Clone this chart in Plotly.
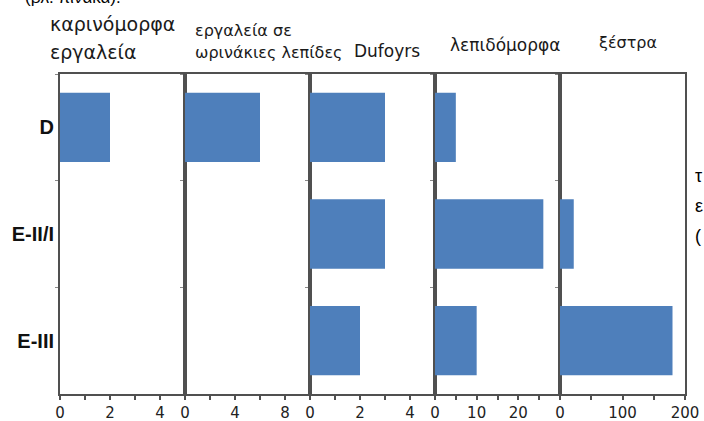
import plotly.graph_objects as go

# ---- data ----
categories = ["D", "E-II/I", "E-III"]
panel_titles = [
    ["καρινόμορφα", "εργαλεία"],
    ["εργαλεία σε", "ωρινάκιες λεπίδες"],
    ["Dufoyrs"],
    ["λεπιδόμορφα"],
    ["ξέστρα"],
]
karinomorfa = [2, None, None]
orinakies_lepides = [6, None, None]
dufoyrs = [3, 3, 2]
lepidomorfa = [5, 26, 10]
xestra = [None, 22, 180]

axis_ranges = [[0, 5], [0, 10], [0, 5], [0, 30], [0, 200]]
tick_vals = [
    [0, 1, 2, 3, 4, 5],
    [0, 2, 4, 6, 8, 10],
    [0, 1, 2, 3, 4, 5],
    [0, 5, 10, 15, 20, 25, 30],
    [0, 50, 100, 150, 200],
]
tick_text = [
    ["0", "", "2", "", "4", ""],
    ["0", "", "4", "", "8", ""],
    ["0", "", "2", "", "4", ""],
    ["0", "", "10", "", "20", "", ""],
    ["0", "", "100", "", "200"],
]
side_text = ["τ", "ε", "("]
top_text = "(βλ. πίνακα)."

panel_values = [karinomorfa, orinakies_lepides, dufoyrs, lepidomorfa, xestra]

# ---- layout geometry ----
W, H = 704, 421
L, R, T, B = 60, 19, 74, 27
PW = W - L - R
PH = H - T - B

def px(xp):
    return (xp - L) / PW

def py(yp):
    return (H - B - yp) / PH

BAR = "#4E7FBB"
LINE = "#505050"
FONT = "Liberation Sans, Arial, sans-serif"
WIDE = "DejaVu Sans, Verdana, sans-serif"

fig = go.Figure()
n = len(panel_values)
for i, vals in enumerate(panel_values):
    xa = "x" if i == 0 else f"x{i+1}"
    ya = "y" if i == 0 else f"y{i+1}"
    fig.add_trace(go.Bar(
        x=vals, y=categories, orientation="h", xaxis=xa, yaxis=ya,
        marker=dict(color=BAR, line=dict(width=0)), width=0.65,
        showlegend=False, hoverinfo="x+y",
    ))
    xkey = "xaxis" if i == 0 else f"xaxis{i+1}"
    ykey = "yaxis" if i == 0 else f"yaxis{i+1}"
    fig.layout[xkey] = dict(
        domain=[i / n, (i + 1) / n], anchor=ya, range=axis_ranges[i],
        tickmode="array", tickvals=tick_vals[i], ticktext=tick_text[i],
        ticks="outside", ticklen=4, tickwidth=1.5, tickcolor=LINE,
        showline=True, linecolor=LINE, linewidth=2, mirror=True,
        showgrid=False, zeroline=False, fixedrange=True, automargin=False,
        tickfont=dict(family=WIDE, size=15, color="#222222"),
    )
    fig.layout[ykey] = dict(
        domain=[0, 1], anchor=xa, type="category",
        categoryorder="array", categoryarray=categories,
        range=[2.5, -0.5], tickson="boundaries",
        ticks="outside", ticklen=3, tickwidth=1, tickcolor="#888888",
        showline=True, linecolor=LINE, linewidth=2, mirror=True,
        showgrid=False, zeroline=False, showticklabels=(i == 0),
        tickfont=dict(family=FONT, size=20, color="#111111", weight="bold"),
        fixedrange=True, automargin=False,
    )

ann = []
def add(text, x, y, size, family=WIDE, color="#1a1a1a", xanchor="left"):
    ann.append(dict(text=text, x=px(x), y=py(y), xref="paper", yref="paper",
                    xanchor=xanchor, yanchor="middle", showarrow=False,
                    font=dict(family=family, size=size, color=color)))

# panel titles
add(panel_titles[0][0], 48, 24, 19)
add(panel_titles[0][1], 48, 52, 19)
add(panel_titles[1][0], 193, 30, 16)
add(panel_titles[1][1], 193, 53, 16)
add(panel_titles[2][0], 352, 51, 17)
add(panel_titles[3][0], 448, 45, 17)
add(panel_titles[4][0], 597, 43, 16)
# surrounding document fragments
add(top_text, 23, -2, 17, family=FONT, color="#000000")
for k, t in enumerate(side_text):
    add(t, 693, 176 + 30 * k, 18, family=FONT, color="#000000")

fig.update_layout(
    width=W, height=H, margin=dict(l=L, r=R, t=T, b=B, autoexpand=False),
    paper_bgcolor="white", plot_bgcolor="white",
    annotations=ann, bargap=0.35,
)

fig.write_html(
    "out.html",
    config={"displayModeBar": False},
    post_script="document.body.style.margin='0';document.body.style.overflow='hidden';",
)
